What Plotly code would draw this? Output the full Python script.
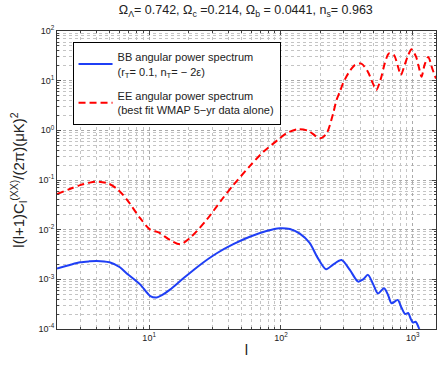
import numpy as np
import plotly.graph_objects as go

# BB spectrum (r_T = 0.1)
bb_l = [2, 2.5, 3, 3.5, 4, 5, 6, 6.8, 8.5, 10.2, 11.4, 12.5, 14.4, 18.2, 24.3, 32.6, 43.5,
        58, 77.6, 98, 117, 139, 165, 190, 220, 250, 288, 333, 385, 420, 457, 500, 544,
        605, 650, 691, 768, 820, 875, 922, 965, 1004, 1050, 1120]
bb_cl = [1.65e-3, 1.95e-3, 2.2e-3, 2.3e-3, 2.35e-3, 2.2e-3, 1.75e-3, 1.3e-3, 8.0e-4,
         4.6e-4, 4.3e-4, 4.8e-4, 6.2e-4, 1.05e-3, 1.95e-3, 3.35e-3, 5.1e-3, 7.2e-3,
         9.4e-3, 1.07e-2, 1.03e-2, 8.3e-3, 5.4e-3, 2.7e-3, 1.6e-3, 2.0e-3, 2.45e-3,
         1.55e-3, 9.0e-4, 1.0e-3, 1.23e-3, 8.0e-4, 5.2e-4, 6.6e-4, 4.8e-4, 3.3e-4,
         3.85e-4, 2.7e-4, 2.0e-4, 2.1e-4, 1.6e-4, 1.35e-4, 1.4e-4, 1.0e-4]

# EE spectrum (WMAP 5-yr best fit)
ee_l = [2, 2.5, 3, 3.5, 4, 4.9, 5.8, 6.8, 8.55, 10.2, 11.8, 14.4, 17.2, 20.4, 27.4, 35.5,
        43.5, 58, 73.6, 96, 110, 134, 161, 198, 222, 249, 264, 280, 296, 324, 363, 407,
        457, 497, 529, 578, 612, 660, 718, 773, 812, 874, 925, 978, 1060, 1110, 1165,
        1230, 1310, 1410, 1500]
ee_cl = [0.052, 0.066, 0.079, 0.088, 0.093, 0.085, 0.064, 0.040, 0.017, 0.010, 8.8e-3,
         6.2e-3, 5.1e-3, 6.8e-3, 0.016, 0.040, 0.079, 0.19, 0.37, 0.66, 0.87, 1.05, 0.98,
         0.69, 0.87, 2.2, 4.1, 6.0, 8.9, 14, 20.6, 22, 15, 8.9, 6.5, 12, 22, 35.5, 33,
         19, 13, 22, 33, 43, 30, 19, 12, 21, 30, 17, 11]

x_ticks = [10, 100, 1000]
x_text = ["10<sup>1</sup>", "10<sup>2</sup>", "10<sup>3</sup>"]
y_ticks = [1e-4, 1e-3, 1e-2, 1e-1, 1, 10, 100]
y_text = ["10<sup>-4</sup>", "10<sup>-3</sup>", "10<sup>-2</sup>", "10<sup>-1</sup>",
          "10<sup>0</sup>", "10<sup>1</sup>", "10<sup>2</sup>"]
x_minor = [m * 10 ** e for e in range(0, 4) for m in range(2, 10)]
y_minor = [m * 10.0 ** e for e in range(-4, 2) for m in range(2, 10)]

fig = go.Figure()
fig.add_trace(go.Scatter(
    x=bb_l, y=bb_cl, mode="lines", legendgroup="bb",
    line=dict(color="#1f3ff5", width=2, shape="spline", smoothing=0.8),
    name="BB angular power spectrum<br>(r<sub>T</sub>= 0.1, n<sub>T</sub>= \u2212 2\u03b5)"))
fig.add_trace(go.Scatter(
    x=ee_l, y=ee_cl, mode="lines", legendgroup="ee",
    line=dict(color="#ff0000", width=2, dash="7px,4px", shape="spline", smoothing=0.8),
    name="EE angular power spectrum<br>(best fit WMAP 5\u2212yr data alone)"))

axis_common = dict(
    type="log", ticks="inside", ticklen=4, automargin=False,
    showline=True, linecolor="#333", mirror="ticks", zeroline=False,
    showgrid=True, gridcolor="#aaaaaa", griddash="dot", gridwidth=1,
    tickfont=dict(size=9),
)
fig.update_xaxes(
    range=[np.log10(2), np.log10(1500)], tickvals=x_ticks, ticktext=x_text,
    minor=dict(tickmode="array", tickvals=x_minor, ticks="inside", ticklen=2,
               showgrid=True, gridcolor="#c4c4c4", griddash="dot"),
    title=dict(text="l", font=dict(size=15), standoff=2),
    **axis_common)
fig.update_yaxes(
    range=[-4, 2], tickvals=y_ticks, ticktext=y_text,
    minor=dict(tickmode="array", tickvals=y_minor, ticks="inside", ticklen=2,
               showgrid=True, gridcolor="#c4c4c4", griddash="dot"),
    title=dict(text="l(l+1)C<sub>l</sub><sup>(XX)</sup>/(2\u03c0)(\u03bcK)<sup>2</sup>",
               font=dict(size=15), standoff=10),
    **axis_common)

fig.update_layout(
    width=439, height=365,
    margin=dict(l=57, r=3, t=31, b=36),
    paper_bgcolor="white", plot_bgcolor="white",
    font=dict(family="Liberation Sans, Arial, sans-serif", color="#222"),
    title=dict(text="\u03a9<sub>\u039b</sub>= 0.742, \u03a9<sub>c</sub> =0.214, "
                    "\u03a9<sub>b</sub> = 0.0441, n<sub>s</sub>= 0.963",
               x=0.56, xanchor="center", y=0.985, yanchor="top", font=dict(size=12.5)),
    legend=dict(x=0.041, y=0.962, xanchor="left", yanchor="top",
                bordercolor="black", borderwidth=1, bgcolor="white",
                font=dict(size=11), tracegroupgap=7, itemwidth=34),
)

fig.write_html("out.html", config={"displayModeBar": False},
               post_script="document.body.style.margin='0';")
